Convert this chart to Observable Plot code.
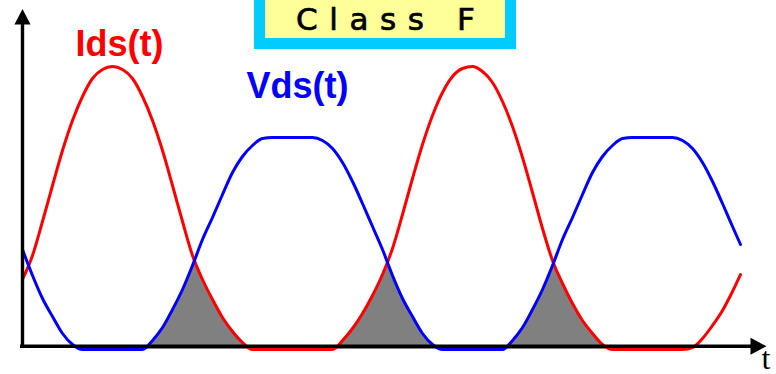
<!DOCTYPE html>
<html>
<head>
<meta charset="utf-8">
<script src="https://cdn.jsdelivr.net/npm/d3@7"></script>
<script src="https://cdn.jsdelivr.net/npm/@observablehq/plot@0.6"></script>
<style>
  html, body { margin: 0; padding: 0; background: #ffffff; overflow: hidden; }
  #wrap { position: relative; width: 776px; height: 374px; overflow: hidden; }
  #title {
    position: absolute; left: 254px; top: 0px;
    width: 240px; height: 38px;
    border: 11px solid #00ccff; border-top: none; background: #ffff99;
  }
  #title span {
    position: absolute; left: 31px; top: 5px;
    font-family: "DejaVu Sans", sans-serif; font-size: 31px; line-height: 28px;
    letter-spacing: 11.6px; color: #000000; white-space: nowrap;
    -webkit-text-stroke: 0.7px #000000;
  }
</style>
</head>
<body>
<div id="wrap">
  <div id="chart"></div>
  <div id="title"><span id="titleText"></span></div>
</div>
<script>
// Phase (time) samples, in degrees of the fundamental
const t = [0,10,20,30,40,50,60,70,80,90,100,110,120,130,140,150,160,170,180,190,
  200,210,220,230,240,250,260,270,280,290,300,310,320,330,340,350,360,370,380,390,
  400,410,420,430,440,450,460,470,480,490,500,510,520,530,540,550,560,570,580,590,
  600,610,620,630,640,650,660,670,680,690,700,710,718];

// Drain current Ids(t), relative units
const ids = [70,94,128,164,199,229,253,271,280,283,280,271,253,229,199,164,128,94,70,50,
  32,18,7,0,0,0,0,0,0,0,0,0,9,21,36,54,75,101,135,171,
  205,234,257,273,281,283,278,267,248,223,192,157,121,89,66,46,29,16,5,0,
  0,0,0,0,0,0,0,2,11,24,39,58,75];

// Drain voltage Vds(t), relative units
const vds = [100,74,51,33,16,5,0,0,0,0,0,0,0,9,22,40,60,84,110,132,
  155,177,193,204,211,212,212,212,212,212,209,201,187,168,146,123,100,74,51,33,
  16,5,0,0,0,0,0,0,0,9,22,40,60,84,110,132,155,177,193,204,
  211,212,212,212,212,212,209,201,187,168,146,123,105];

// phase range in which the overlap is shaded
const shadeFrom = 60;
const shadeTo = 660;

const seriesNames = ["Ids(t)", "Vds(t)"];
const titleLabel = "Class F";
const timeLabel = "t";

const table = t.map((ti, i) => ({t: ti, ids: ids[i], vds: vds[i]}));
const shaded = table.filter(d => d.t >= shadeFrom && d.t <= shadeTo);
const yTop = d3.max(ids);

// filled arrowheads for the axes
const arrowRight = {draw(ctx, size) {
  const r = Math.sqrt(size / Math.PI);
  ctx.moveTo(r, 0); ctx.lineTo(-r, -r * 1.06); ctx.lineTo(-r, r * 1.06); ctx.closePath();
}};
const arrowUp = {draw(ctx, size) {
  const r = Math.sqrt(size / Math.PI);
  ctx.moveTo(0, -r); ctx.lineTo(r * 1.03, r); ctx.lineTo(-r * 1.03, r); ctx.closePath();
}};

const bold = {fontFamily: "Liberation Sans, Arial, sans-serif", fontWeight: "bold", fontSize: 36,
  frameAnchor: "top-left", textAnchor: "start", lineAnchor: "bottom"};

const chart = Plot.plot({
  width: 776,
  height: 374,
  margin: 0,
  x: {domain: [0, 720], range: [22, 742], axis: null},
  y: {domain: [0, 283], range: [349, 66], axis: null},
  marks: [
    // overlap of current and voltage (dissipation)
    Plot.areaY(shaded, {x: "t", y: "ids", fill: "#808080", curve: "monotone-x"}),
    Plot.areaY(shaded, {x: "t", y1: "vds", y2: () => yTop + 2, fill: "#ffffff", curve: "monotone-x"}),
    Plot.line(table, {x: "t", y: "ids", stroke: "#ff0000", strokeWidth: 3, curve: "monotone-x"}),
    Plot.line(table, {x: "t", y: "vds", stroke: "#0000ff", strokeWidth: 3, curve: "monotone-x"}),
    // axes
    Plot.ruleX([0], {y1: 1.5, y2: 326, stroke: "#000000", strokeWidth: 3.4}),
    Plot.ruleY([3.3], {x1: -2, x2: 730, stroke: "#000000", strokeWidth: 3.4}),
    Plot.dot([[736, 3.3]], {x: d => d[0], y: d => d[1], symbol: arrowRight, r: 8, fill: "#000000", stroke: "none"}),
    Plot.dot([[0, 332.7]], {x: d => d[0], y: d => d[1], symbol: arrowUp, r: 7.8, fill: "#000000", stroke: "none"}),
    // labels
    Plot.text([seriesNames[0]], {...bold, dx: 75, dy: 55, fill: "#ff0000"}),
    Plot.text([seriesNames[1]], {...bold, dx: 246, dy: 97, fill: "#0000ff"}),
    Plot.text([timeLabel], {frameAnchor: "top-left", textAnchor: "start", lineAnchor: "bottom",
      dx: 761, dy: 368, fontSize: 32, fontFamily: "Liberation Serif, serif", fill: "#000000"})
  ]
});
document.getElementById("chart").appendChild(chart);
document.getElementById("titleText").textContent = titleLabel;
</script>
</body>
</html>
